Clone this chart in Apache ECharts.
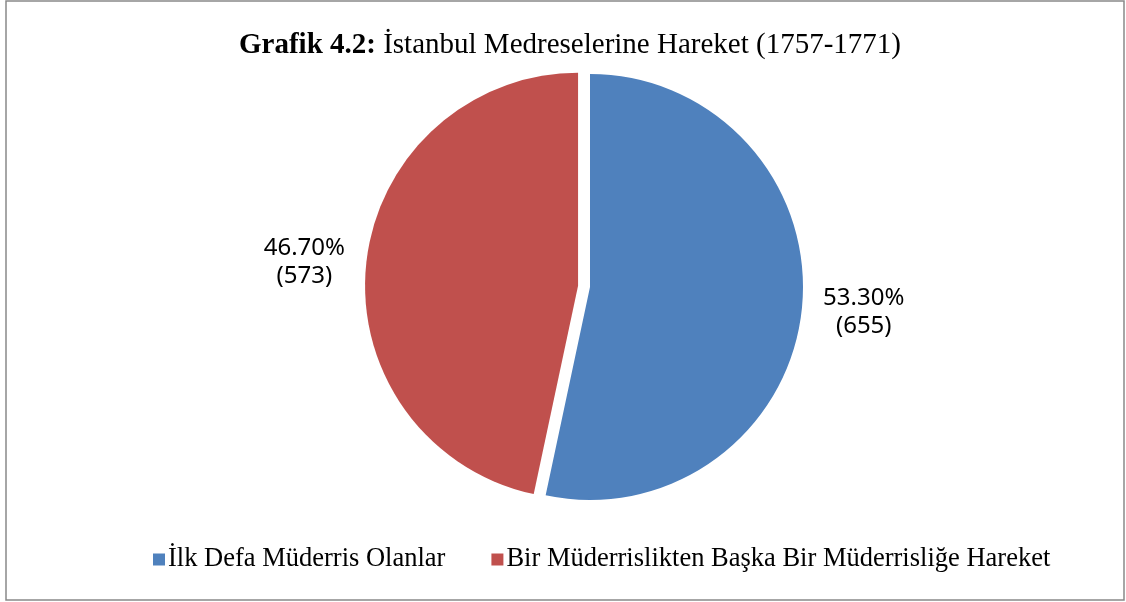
<!DOCTYPE html>
<html>
<head>
<meta charset="utf-8">
<script src="https://cdn.jsdelivr.net/npm/echarts@6/dist/echarts.min.js"></script>
<style>
  html, body { margin: 0; padding: 0; background: #fff; }
  #chart { width: 1126px; height: 602px; }
</style>
</head>
<body>
<div id="chart"></div>
<script>
var sliceNames = ['İlk Defa Müderris Olanlar', 'Bir Müderrislikten Başka Bir Müderrisliğe Hareket'];
var sliceCounts = [655, 573];
var slicePercents = ['53.30%', '46.70%'];

var colors = ['#4F81BD', '#C0504D'];

var chartDom = document.getElementById('chart');
var myChart = echarts.init(chartDom);
var option;

var pieData = sliceNames.map(function (name, i) {
    return {
        name: name,
        value: sliceCounts[i],
        pct: slicePercents[i],
        selected: i === 1,
        itemStyle: { color: colors[i] }
    };
});

option = {
    animation: false,
    graphic: [
        {
            type: 'rect',
            shape: { x: 6, y: 1, width: 1118, height: 599 },
            style: { fill: 'none', stroke: '#898989', lineWidth: 1.5 },
            silent: true
        }
    ],
    title: {
        text: '{b|Grafik 4.2:} İstanbul Medreselerine Hareket (1757-1771)',
        left: 234,
        top: 26,
        textStyle: {
            fontFamily: 'Liberation Serif',
            fontSize: 29,
            fontWeight: 'normal',
            color: '#000',
            rich: {
                b: {
                    fontFamily: 'Liberation Serif',
                    fontSize: 29,
                    fontWeight: 'bold',
                    color: '#000'
                }
            }
        }
    },
    legend: {
        left: 148,
        top: 541,
        icon: 'rect',
        itemWidth: 12,
        itemHeight: 12,
        itemGap: 46,
        selectedMode: false,
        textStyle: {
            fontFamily: 'Liberation Serif',
            fontSize: 26.5,
            color: '#000',
            padding: [0, 0, 0, -2]
        },
        data: sliceNames
    },
    series: [
        {
            type: 'pie',
            center: [590, 287],
            radius: 213,
            startAngle: 90,
            clockwise: true,
            selectedMode: 'single',
            selectedOffset: 12,
            silent: true,
            data: pieData,
            label: {
                position: 'outside',
                formatter: function (p) {
                    return '{a|' + p.data.pct + '}\n{a|(' + p.value + ')}';
                },
                rich: {
                    a: {
                        fontFamily: 'Noto Sans',
                        fontSize: 24,
                        lineHeight: 28,
                        width: 84,
                        align: 'center',
                        color: '#000'
                    }
                }
            },
            labelLine: {
                show: false,
                length: 15,
                length2: 0
            },
            labelLayout: function (params) {
                return { dy: params.dataIndex === 0 ? 1 : 0 };
            }
        }
    ]
};

option && myChart.setOption(option);
</script>
</body>
</html>
